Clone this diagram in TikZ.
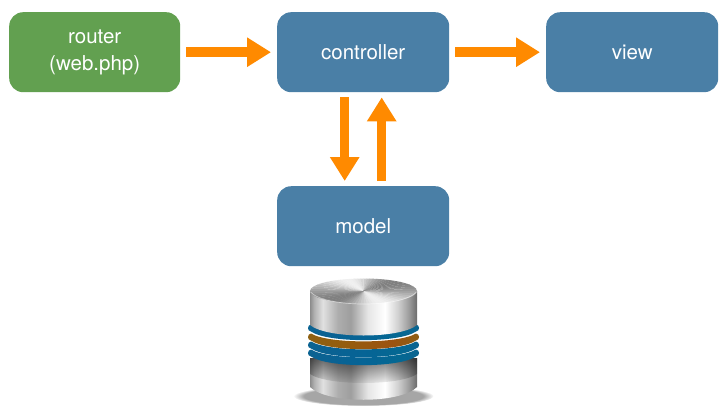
\documentclass[tikz,border=0pt]{standalone}
\usepackage{fontspec}
\setmainfont{TeX Gyre Heros}
\usetikzlibrary{arrows.meta,fadings}
\definecolor{boxgreen}{RGB}{98,160,80}
\definecolor{boxblue}{RGB}{74,127,166}
\definecolor{flow}{RGB}{255,138,0}
\pgfdeclarehorizontalshading{metal}{100bp}{
 color(0bp)=(black!45);color(25bp)=(black!45);color(27bp)=(black!30);color(31bp)=(black!12);
 color(38bp)=(black!32);color(44bp)=(black!38);color(52bp)=(black!10);color(60bp)=(white);
 color(66bp)=(black!18);color(71bp)=(black!38);color(75bp)=(black!58);color(100bp)=(black!58)}
\pgfdeclarehorizontalshading{bluedisk}{100bp}{
 color(0bp)=(rgb:red,10;green,95;blue,140);color(25bp)=(rgb:red,10;green,95;blue,140);
 color(32bp)=(rgb:red,8;green,70;blue,105);color(50bp)=(rgb:red,5;green,90;blue,135);
 color(65bp)=(rgb:red,5;green,110;blue,155);color(75bp)=(rgb:red,10;green,90;blue,130);
 color(100bp)=(rgb:red,10;green,90;blue,130)}
\pgfdeclarehorizontalshading{orangedisk}{100bp}{
 color(0bp)=(rgb:red,235;green,160;blue,30);color(25bp)=(rgb:red,235;green,160;blue,30);
 color(40bp)=(rgb:red,215;green,135;blue,20);color(62bp)=(rgb:red,235;green,125;blue,25);
 color(75bp)=(rgb:red,225;green,150;blue,30);color(100bp)=(rgb:red,225;green,150;blue,30)}
\tikzset{
 box/.style={rounded corners=14pt,minimum width=172pt,minimum height=80pt,inner sep=0pt,
   text=white,font=\fontsize{20.5}{27}\selectfont,align=center,anchor=north west},
 flowline/.style={draw=flow,line width=9.5pt,
   -{Triangle[length=24pt,width=28pt,fill=flow]},shorten <=6pt,shorten >=6pt},
 flowupdown/.style={flowline,shorten <=5pt,shorten >=5pt}
}
\newcommand{\dbdisk}[2]{% left-end y, shading
 \shade[shading=#2] (311,#1-3.5) .. controls (328,#1+7) and (399,#1+7) .. (416,#1-3.5)
   .. controls (420,#1-3) and (420,#1+3) .. (416,#1+3.5)
   .. controls (399,#1+15) and (328,#1+15) .. (311,#1+3.5)
   .. controls (307,#1+3) and (307,#1-3) .. (311,#1-3.5) -- cycle;}
\begin{document}
\begin{tikzpicture}[x=1pt,y=-1pt]
\useasboundingbox (0,0) rectangle (726,416);
\node[box,fill=boxgreen,minimum width=171pt] (router) at (9,12) {router\\(web.php)};
\node[box,fill=boxblue] (controller) at (277,12) {controller};
\node[box,fill=boxblue] (view) at (546,12) {view};
\node[box,fill=boxblue] (model) at (277,186) {model};
\draw[flowline] (router.east) -- (controller.west);
\draw[flowline] (controller.east) -- (view.west);
\draw[flowupdown] ([xshift=-18.5pt]controller.south) -- ([xshift=-18.5pt]model.north);
\draw[flowupdown] ([xshift=18.5pt]model.north) -- ([xshift=18.5pt]controller.south);
% database: soft shadow
\fill[black,opacity=.35,path fading=circle with fuzzy edge 15 percent] (363.5,396) ellipse [x radius=70,y radius=10];
% lower cylinder
\shade[shading=metal] (310,358) -- (417,358) -- (417,387)
  .. controls (400,404) and (327,404) .. (310,387) -- cycle;
\fill[black,opacity=.55,path fading=south] (310,358) -- (417,358) -- (417,374)
  .. controls (400,386) and (327,386) .. (310,374) -- cycle;
% stacked rings
\dbdisk{353}{bluedisk}
\dbdisk{345}{bluedisk}
\dbdisk{337}{orangedisk}
\dbdisk{328}{bluedisk}
% upper cylinder
\shade[shading=metal] (310,291) -- (417,291) -- (417,325)
  .. controls (400,339) and (327,339) .. (310,325) -- cycle;
\begin{scope}
 \clip (363.5,291) ellipse [x radius=53.5,y radius=12.5];
 \foreach \a in {0,6,...,354}{
  \pgfmathsetmacro{\g}{28+22*cos(2*(\a+35))}
  \fill[black!\g] (363.5,291) -- ({363.5+70*cos(\a)},{291+30*sin(\a)}) -- ({363.5+70*cos(\a+6.5)},{291+30*sin(\a+6.5)}) -- cycle;
 }
\end{scope}
\draw[white,opacity=.5,line width=.7pt] (310.5,292) .. controls (325,308) and (402,308) .. (416.5,292);
\end{tikzpicture}
\end{document}
